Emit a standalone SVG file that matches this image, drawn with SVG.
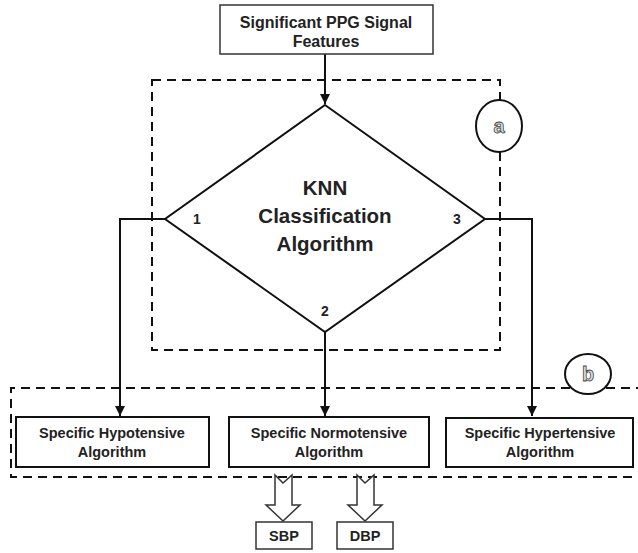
<svg xmlns="http://www.w3.org/2000/svg" width="638" height="553" viewBox="0 0 638 553">
  <style>
    .box { fill: #fff; stroke: #111; stroke-width: 2; }
    .thin { fill: #fff; stroke: #333; stroke-width: 1.5; }
    .dash { fill: none; stroke: #111; stroke-width: 2; stroke-dasharray: 9 6; }
    .line { fill: none; stroke: #111; stroke-width: 2; }
    .lbl { font-family: "Liberation Sans", Arial, sans-serif; font-weight: bold; font-size: 14.5px; fill: #222; text-anchor: middle; }
    .top { font-size: 16px; }
    .big { font-family: "Liberation Sans", Arial, sans-serif; font-weight: bold; font-size: 20.5px; fill: #222; text-anchor: middle; }
    .num { font-family: "Liberation Sans", Arial, sans-serif; font-weight: bold; font-size: 14px; fill: #222; text-anchor: middle; }
    .tag { font-family: "Liberation Sans", Arial, sans-serif; font-weight: bold; font-size: 20px; fill: #ddd; stroke: #444; stroke-width: 0.8; text-anchor: middle; }
  </style>
  <defs>
    <marker id="arr" viewBox="0 0 10 10" refX="10" refY="5" markerWidth="5" markerHeight="5" orient="auto">
      <path d="M0,0 L10,5 L0,10 Z" fill="#111"/>
    </marker>
  </defs>

  <!-- dashed region outlines -->
  <g id="region-a">
    <rect class="dash" x="152" y="80" width="348" height="270"/>
    <ellipse cx="499" cy="126" rx="23" ry="26" fill="#fff" stroke="#111" stroke-width="2"/>
    <text class="tag" x="499" y="133">a</text>
  </g>
  <g id="region-b">
    <path class="dash" d="M645,388 H11 V477 H645"/>
    <ellipse cx="588" cy="374" rx="23" ry="20" fill="#fff" stroke="#111" stroke-width="2"/>
    <text class="tag" x="588" y="381">b</text>
  </g>

  <g id="connectors">
    <line class="line" x1="325" y1="54" x2="325" y2="104" marker-end="url(#arr)"/>
    <path class="line" d="M165,219 H120 V416" marker-end="url(#arr)"/>
    <line class="line" x1="325" y1="332" x2="325" y2="416" marker-end="url(#arr)"/>
    <path class="line" d="M485,219 H532 V416" marker-end="url(#arr)"/>
    <!-- hollow block arrows -->
    <path class="thin" d="M275,475 L283,483 L292,475 V505 H300 L283,521 L266,505 H275 Z"/>
    <path class="thin" d="M357,475 L365,483 L374,475 V505 H382 L365,521 L348,505 H357 Z"/>
  </g>

  <g id="features">
    <rect class="thin" x="220" y="5" width="213" height="49"/>
    <text class="lbl top" x="326" y="28">Significant PPG Signal</text>
    <text class="lbl top" x="326" y="47">Features</text>
  </g>

  <g id="knn">
    <path class="line" d="M325,105 L485,219 L325,332 L165,219 Z"/>
    <text class="big" x="325" y="195">KNN</text>
    <text class="big" x="325" y="223">Classification</text>
    <text class="big" x="325" y="251">Algorithm</text>
    <text class="num" x="197" y="224">1</text>
    <text class="num" x="325" y="316">2</text>
    <text class="num" x="457" y="224">3</text>
  </g>

  <g id="hypotensive">
    <rect class="box" x="16" y="417" width="193" height="50"/>
    <text class="lbl" x="112" y="438">Specific Hypotensive</text>
    <text class="lbl" x="112" y="457">Algorithm</text>
  </g>
  <g id="normotensive">
    <rect class="box" x="229" y="417" width="200" height="50"/>
    <text class="lbl" x="329" y="438">Specific Normotensive</text>
    <text class="lbl" x="329" y="457">Algorithm</text>
  </g>
  <g id="hypertensive">
    <rect class="box" x="446" y="418" width="187" height="49"/>
    <text class="lbl" x="540" y="438">Specific Hypertensive</text>
    <text class="lbl" x="540" y="457">Algorithm</text>
  </g>

  <g id="sbp">
    <rect class="thin" x="256" y="522" width="56" height="27"/>
    <text class="lbl" x="284" y="541">SBP</text>
  </g>
  <g id="dbp">
    <rect class="thin" x="337" y="522" width="56" height="27"/>
    <text class="lbl" x="365" y="541">DBP</text>
  </g>
</svg>
